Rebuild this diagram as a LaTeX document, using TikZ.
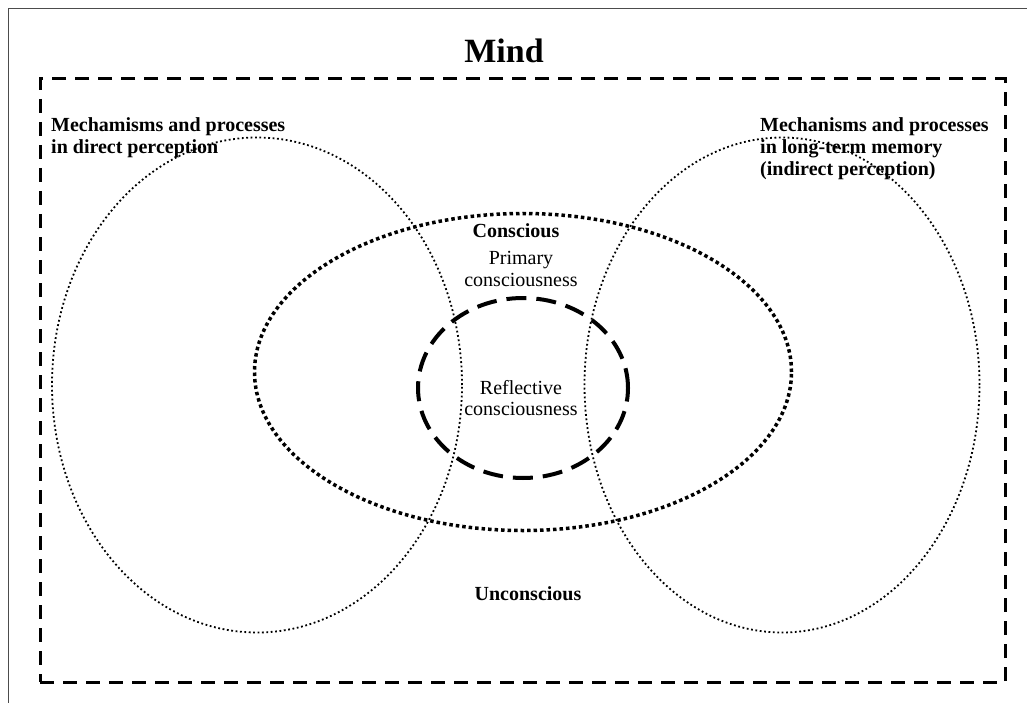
\documentclass[tikz,border=0pt]{standalone}
\usepackage{fontspec}
\setmainfont{Liberation Serif}
\usetikzlibrary{shapes.geometric}
\tikzset{
  frameline/.style={draw=black!70, line width=1pt},
  outerbox/.style={draw, line width=3pt, dash pattern=on 14pt off 9pt},
  bigoval/.style={ellipse, draw, line width=1.8pt, dash pattern=on 1.8pt off 2.6pt, inner sep=0pt},
  consoval/.style={ellipse, draw, line width=3.5pt, dash pattern=on 3.5pt off 3pt, inner sep=0pt},
  refloval/.style={ellipse, draw, line width=4pt, dash pattern=on 20pt off 10pt, inner sep=0pt},
  lab/.style={font=\fontsize{20}{21}\selectfont, inner sep=0pt, align=center},
  blab/.style={font=\fontsize{20}{22}\selectfont\bfseries, inner sep=0pt},
}
\begin{document}
\begin{tikzpicture}[x=1pt,y=-1pt]
\useasboundingbox (0,0) rectangle (1027,703);
% partial thin frame
\coordinate (fa) at (8,703);
\coordinate (fb) at (8,9);
\coordinate (fc) at (1027,9);
\draw[frameline] (fa) -- (fb) -- (fc);
% outer dashed box
\node[outerbox, minimum width=965pt, minimum height=603pt, inner sep=0pt] (mindbox) at (522.5,380.5) {};
\node[font=\fontsize{34}{36}\selectfont\bfseries, anchor=base] (mind) at (504,63) {Mind};
% ellipses
\node[bigoval, minimum width=410pt, minimum height=495pt] (perc) at (257,385) {};
\node[bigoval, minimum width=395pt, minimum height=495pt] (mem) at (782,385) {};
\node[consoval, minimum width=537pt, minimum height=317pt] (cons) at (523,372) {};
\node[refloval, minimum width=210pt, minimum height=180pt] (refl) at (523,388) {};
% labels
\node[blab, anchor=base west, align=left] (perclab) at (51,154) {Mechamisms and processes\\in direct perception};
\node[blab, anchor=base west, align=left] (memlab) at (760,176) {Mechanisms and processes\\in long-term memory\\(indirect perception)};
\node[blab, anchor=base] (conslab) at (516,237) {Conscious};
\node[lab, anchor=base] (primlab) at (521,286) {Primary\\consciousness};
\node[lab, anchor=base] (refllab) at (521,415) {Reflective\\consciousness};
\node[blab, anchor=base] (unclab) at (528,600) {Unconscious};
\end{tikzpicture}
\end{document}
